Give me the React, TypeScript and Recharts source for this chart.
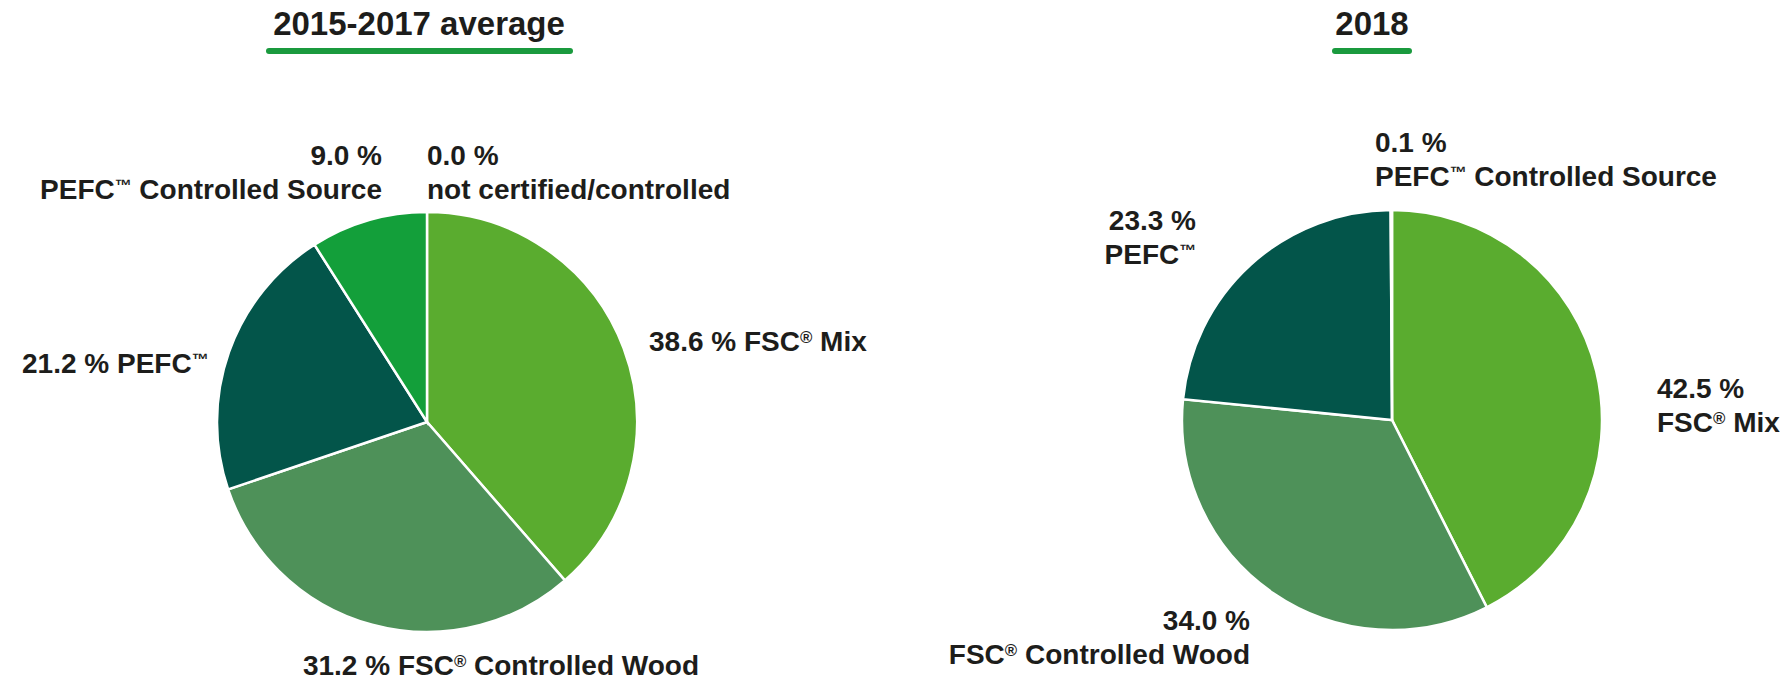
import React from 'react';
import { PieChart, Pie, Cell } from 'recharts';

// categories, in clockwise order from 12 o'clock
const categories = [
  'FSC® Mix',
  'FSC® Controlled Wood',
  'PEFC™',
  'PEFC™ Controlled Source',
  'not certified/controlled',
];
const avg2015to2017 = [38.6, 31.2, 21.2, 9.0, 0.0];
const values2018 = [42.5, 34.0, 23.3, 0.1];
const titles = ['2015-2017 average', '2018'];

const colors = ['#5aac2f', '#4e9159', '#03554a', '#139f3a', '#9e9e9e'];

const leftData = avg2015to2017.map((v, i) => ({ name: categories[i], value: v }));
const rightData = values2018.map((v, i) => ({ name: categories[i], value: v }));

// label placement relative to the pie centre (px); twoLines splits value and name
type LabelPos = { dx: number; dy: number; anchor: 'start' | 'middle' | 'end'; twoLines: boolean };
const leftLabels: LabelPos[] = [
  { dx: 222, dy: -71, anchor: 'start', twoLines: false },
  { dx: 74, dy: 253, anchor: 'middle', twoLines: false },
  { dx: -405, dy: -49, anchor: 'start', twoLines: false },
  { dx: -45, dy: -257, anchor: 'end', twoLines: true },
  { dx: 0, dy: -257, anchor: 'start', twoLines: true },
];
const rightLabels: LabelPos[] = [
  { dx: 265, dy: -22, anchor: 'start', twoLines: true },
  { dx: -142, dy: 210, anchor: 'end', twoLines: true },
  { dx: -196, dy: -190, anchor: 'end', twoLines: true },
  { dx: -17, dy: -268, anchor: 'start', twoLines: true },
];

const FONT = '"Liberation Sans", Arial, sans-serif';
const TEXT = '#1d1d1b';
const LABEL_SIZE = 28;
const LINE_GAP = 34;

// small raised ® and ™ like the original artwork
const richText = (s: string, fs: number) => {
  const parts = s.split(/([®™])/).filter((p) => p !== '');
  let raised = false;
  return parts.map((p, i) => {
    if (p === '®' || p === '™') {
      raised = true;
      return (
        <tspan key={i} fontSize={fs * 0.6} dy={-fs * 0.3}>
          {p}
        </tspan>
      );
    }
    const dy = raised ? fs * 0.3 : undefined;
    raised = false;
    return (
      <tspan key={i} dy={dy}>
        {p}
      </tspan>
    );
  });
};

const makeLabel = (layout: LabelPos[]) => (props: any) => {
  const { cx, cy, index, value, name } = props;
  const pos = layout[index];
  if (!pos) return null;
  const pct = `${Number(value).toFixed(1)} %`;
  const x = cx + pos.dx;
  const y = cy + pos.dy;
  return (
    <text
      key={`lbl-${index}`}
      x={x}
      y={y}
      textAnchor={pos.anchor}
      fill={TEXT}
      fontFamily={FONT}
      fontWeight={700}
      fontSize={LABEL_SIZE}
    >
      {pos.twoLines ? (
        <>
          <tspan x={x} y={y}>{pct}</tspan>
          <tspan x={x} y={y + LINE_GAP}>{richText(name, LABEL_SIZE)}</tspan>
        </>
      ) : (
        richText(`${pct} ${name}`, LABEL_SIZE)
      )}
    </text>
  );
};

const Title = ({ text, centerX, barWidth }: { text: string; centerX: number; barWidth: number }) => (
  <div style={{ position: 'absolute', left: centerX - 250, top: 0, width: 500, textAlign: 'center' }}>
    <div
      style={{
        fontFamily: FONT,
        fontWeight: 700,
        fontSize: 33,
        color: TEXT,
        lineHeight: '44px',
        marginTop: 2,
      }}
    >
      {text}
    </div>
    <div
      style={{
        position: 'absolute',
        left: 250 - barWidth / 2,
        top: 48,
        width: barWidth,
        height: 6,
        borderRadius: 3,
        background: '#1a9a3e',
      }}
    />
  </div>
);

export default function App() {
  return (
    <div style={{ position: 'absolute', left: 0, top: 0, width: 1792, height: 681, background: '#fff' }}>
      <PieChart width={1792} height={681}>
        <Pie
          data={leftData}
          dataKey="value"
          nameKey="name"
          cx={422}
          cy={417}
          outerRadius={210}
          startAngle={90}
          endAngle={-270}
          stroke="#ffffff"
          strokeWidth={2.5}
          label={makeLabel(leftLabels)}
          labelLine={false}
          isAnimationActive={false}
        >
          {leftData.map((d, i) => (
            <Cell key={d.name} fill={colors[i]} />
          ))}
        </Pie>
        <Pie
          data={rightData}
          dataKey="value"
          nameKey="name"
          cx={1387}
          cy={415}
          outerRadius={210}
          startAngle={90}
          endAngle={-270}
          stroke="#ffffff"
          strokeWidth={2.5}
          label={makeLabel(rightLabels)}
          labelLine={false}
          isAnimationActive={false}
        >
          {rightData.map((d, i) => (
            <Cell key={d.name} fill={colors[i]} />
          ))}
        </Pie>
      </PieChart>
      <Title text={titles[0]} centerX={419} barWidth={307} />
      <Title text={titles[1]} centerX={1372} barWidth={80} />
    </div>
  );
}
